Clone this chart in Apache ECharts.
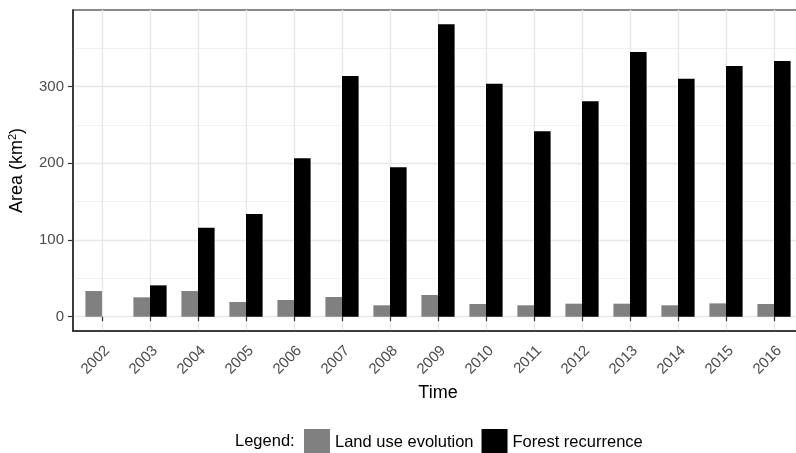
<!DOCTYPE html>
<html>
<head>
<meta charset="utf-8">
<script src="https://cdn.jsdelivr.net/npm/echarts@6/dist/echarts.min.js"></script>
<style>html,body{margin:0;padding:0;background:#fff}#c{width:796px;height:453px}</style>
</head>
<body>
<div id="c"></div>
<script>
const years = ['2002','2003','2004','2005','2006','2007','2008','2009','2010','2011','2012','2013','2014','2015','2016'];
const landUse = [33.5, 25.3, 33.5, 19.2, 21.8, 25.7, 14.9, 28.3, 16.6, 14.9, 17, 17, 14.9, 17.4, 16.6];
const forest = [null, 40.9, 116, 133.9, 206.5, 313.8, 194.8, 381.2, 303.8, 241.7, 280.8, 345.1, 310.3, 326.9, 333.4];
const yTicks = [0, 100, 200, 300];
const seriesNames = ['Land use evolution', 'Forest recurrence'];

const FONT = 'Liberation Sans';
const chart = echarts.init(document.getElementById('c'), null, {renderer: 'canvas'});
chart.setOption({
  animation: false,
  textStyle: {fontFamily: FONT},
  title: {text: 'Legend:', left: 235, top: 433, padding: 0,
    textStyle: {fontFamily: FONT, fontSize: 16.5, fontWeight: 'normal', color: '#000'}},
  legend: {
    data: seriesNames, left: 304, top: 429, itemWidth: 26, itemHeight: 26, itemGap: 8,
    padding: 0, icon: 'rect',
    textStyle: {fontFamily: FONT, fontSize: 16.5, color: '#000'}
  },
  grid: [
    {left: 73, width: 730, top: 9.9, bottom: 136.3, outerBoundsMode: 'none', containLabel: false},
    {left: 78, width: 720, top: 9.9, bottom: 122, outerBoundsMode: 'none', containLabel: false},
    {left: 73, width: 730, top: 9.9, bottom: 122, show: true, outerBoundsMode: 'none', containLabel: false,
     borderColor: '#666', borderWidth: 1.5, backgroundColor: 'transparent'}
  ],
  xAxis: [
    {gridIndex: 0, type: 'value', min: 0, max: 1, show: false},
    {gridIndex: 1, type: 'category', data: years,
      axisLine: {show: false},
      axisTick: {show: true, alignWithLabel: true, length: 4.5, lineStyle: {color: '#333', width: 1.2}},
      axisLabel: {rotate: 45, fontSize: 15, color: '#4d4d4d', margin: 12, fontFamily: FONT,
        align: 'right', verticalAlign: 'top'},
      splitLine: {show: true, alignWithLabel: true, lineStyle: {color: '#e8e8e8', width: 1.4}}
    },
    {gridIndex: 2, type: 'value', min: 0, max: 1,
      name: 'Time', nameLocation: 'middle', nameGap: 53,
      nameTextStyle: {fontSize: 18, color: '#000', fontFamily: FONT},
      axisLine: {show: true, lineStyle: {color: '#222', width: 1.5}},
      axisTick: {show: false}, axisLabel: {show: false}, splitLine: {show: false}
    }
  ],
  yAxis: [
    {gridIndex: 0, type: 'value', min: 0, max: 400, interval: 100,
      axisLine: {show: false},
      axisTick: {show: true, length: 5, lineStyle: {color: '#333', width: 1.2}, customValues: yTicks},
      axisLabel: {fontSize: 15, color: '#4d4d4d', margin: 9, fontFamily: FONT, customValues: yTicks,
        formatter: v => (yTicks.indexOf(v) >= 0 ? String(v) : '')},
      splitLine: {show: true, lineStyle: {color: '#e8e8e8', width: 1.4}},
      minorTick: {show: false, splitNumber: 2},
      minorSplitLine: {show: true, lineStyle: {color: '#f0f0f0', width: 0.9}}
    },
    {gridIndex: 1, type: 'value', min: -18.6, max: 400, show: false},
    {gridIndex: 2, type: 'value', min: 0, max: 1,
      name: 'Area (km{sup|2})', nameLocation: 'middle', nameGap: 45, nameRotate: 90,
      nameTextStyle: {fontSize: 18, color: '#000', fontFamily: FONT,
        rich: {sup: {fontSize: 11, fontFamily: FONT, color: '#000', padding: [0, 0, 10, 0]}}},
      axisLine: {show: true, lineStyle: {color: '#222', width: 1.5}},
      axisTick: {show: false}, axisLabel: {show: false}, splitLine: {show: false}
    }
  ],
  series: [
    {name: seriesNames[0], type: 'bar', xAxisIndex: 1, yAxisIndex: 1, data: landUse,
      barWidth: 16.6, barGap: '0%', itemStyle: {color: '#808080'}},
    {name: seriesNames[1], type: 'bar', xAxisIndex: 1, yAxisIndex: 1, data: forest,
      barWidth: 16.6, barGap: '0%', itemStyle: {color: '#000000'}}
  ]
});
</script>
</body>
</html>
